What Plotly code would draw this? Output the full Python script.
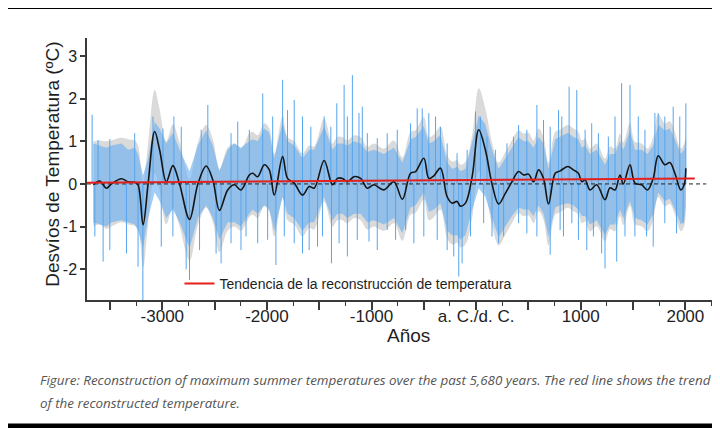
import plotly.graph_objects as go

# Smoothed reconstruction (black line) and its grey uncertainty band
smooth_years = [-3660, -3598, -3534, -3486, -3390, -3327, -3264, -3232, -3184, -3136,
                -3073, -3026, -2962, -2899, -2835, -2740, -2660, -2581, -2517, -2454,
                -2375, -2311, -2248, -2168, -2136, -2088, -2025, -1977, -1930, -1850,
                -1803, -1739, -1660, -1596, -1548, -1453, -1373, -1326, -1278, -1231,
                -1167, -1104, -1040, -977, -882, -786, -705, -627, -579, -500,
                -452, -404, -341, -277, -229, -182, -150, -102, -38, 25,
                88, 152, 215, 279, 342, 406, 454, 501, 549, 597,
                644, 692, 756, 800, 876, 930, 978, 1010, 1042, 1089,
                1153, 1232, 1280, 1328, 1375, 1407, 1471, 1518, 1582, 1639,
                1693, 1741, 1804, 1852, 1900, 1957, 1989, 2005]
smooth_vals = [-0.02, 0.07, -0.10, 0.00, 0.12, 0.05, 0.04, -0.02, -0.96, 0.00,
               1.23, 0.80, 0.05, 0.43, 0.00, -0.83, 0.00, 0.42, 0.09, -0.62,
               -0.14, -0.02, -0.14, 0.21, 0.25, 0.17, 0.45, 0.33, -0.26, 0.64,
               0.13, 0.02, -0.26, -0.06, -0.10, 0.55, -0.02, 0.13, 0.13, 0.05,
               0.17, 0.13, -0.10, -0.02, -0.14, 0.05, -0.36, 0.25, 0.29, 0.60,
               0.13, 0.19, 0.37, -0.30, -0.45, -0.41, -0.52, -0.45, 0.17, 1.27,
               0.80, 0.00, -0.47, -0.22, 0.05, 0.29, 0.21, 0.23, 0.05, 0.33,
               0.13, -0.47, 0.25, 0.30, 0.41, 0.33, 0.25, 0.05, 0.09, -0.14,
               -0.02, -0.37, -0.09, -0.14, 0.21, 0.00, 0.45, 0.02, -0.02, -0.14,
               0.13, 0.66, 0.45, 0.50, 0.25, -0.14, -0.02, 0.37]
grey_hi = [1.00, 1.02, 1.00, 1.02, 1.08, 1.05, 1.02, 0.90, 0.00, 0.95,
           2.20, 1.75, 1.00, 1.40, 0.97, 0.12, 0.97, 1.38, 1.05, 0.35,
           0.85, 0.95, 0.83, 1.18, 1.22, 1.14, 1.42, 1.30, 0.70, 1.60,
           1.10, 1.00, 0.72, 0.90, 0.88, 1.52, 0.95, 1.10, 1.10, 1.02,
           1.14, 1.10, 0.87, 0.95, 0.83, 1.02, 0.62, 1.22, 1.26, 1.57,
           1.10, 1.16, 1.34, 0.67, 0.52, 0.56, 0.45, 0.52, 1.14, 2.24,
           1.77, 0.97, 0.50, 0.75, 1.02, 1.26, 1.18, 1.20, 1.02, 1.30,
           1.10, 0.50, 1.22, 1.27, 1.38, 1.30, 1.22, 1.02, 1.06, 0.83,
           0.95, 0.60, 0.88, 0.83, 1.18, 0.97, 1.42, 0.99, 0.95, 0.83,
           1.10, 1.63, 1.42, 1.47, 1.22, 0.83, 0.95, 1.30]
grey_lo = [-1.00, -0.95, -1.05, -1.00, -0.90, -0.95, -0.98, -1.05, -1.95, -0.95,
           0.25, -0.15, -0.95, -0.55, -1.00, -1.80, -0.97, -0.55, -0.90, -1.60,
           -1.10, -1.00, -1.10, -0.78, -0.72, -0.80, -0.52, -0.65, -1.23, -0.33,
           -0.85, -0.95, -1.23, -1.03, -1.07, -0.42, -1.00, -0.85, -0.85, -0.92,
           -0.80, -0.85, -1.07, -1.00, -1.10, -0.92, -1.33, -0.72, -0.68, -0.37,
           -0.85, -0.78, -0.60, -1.27, -1.42, -1.38, -1.49, -1.42, -0.80, 0.30,
           -0.17, -0.97, -1.44, -1.19, -0.92, -0.68, -0.76, -0.74, -0.92, -0.64,
           -0.84, -1.44, -0.72, -0.67, -0.56, -0.64, -0.72, -0.92, -0.88, -1.11,
           -0.99, -1.34, -1.06, -1.11, -0.76, -0.97, -0.52, -0.95, -0.99, -1.11,
           -0.84, -0.31, -0.52, -0.47, -0.72, -1.11, -0.99, -0.60]

# Dense part of the annual (blue) values
blue_hi = [0.95, 0.90, 0.85, 0.90, 0.95, 0.80, 0.85, 0.70, 0.20, 0.60,
           1.45, 1.30, 0.95, 1.20, 0.80, 0.30, 0.90, 1.25, 0.90, 0.30,
           0.80, 0.95, 0.85, 1.00, 1.05, 1.00, 1.30, 1.20, 0.60, 1.45,
           1.00, 0.90, 0.60, 0.80, 0.80, 1.35, 0.80, 0.95, 0.95, 0.90,
           1.00, 0.95, 0.75, 0.80, 0.70, 0.85, 0.50, 1.05, 1.10, 1.35,
           0.95, 1.00, 1.15, 0.50, 0.35, 0.40, 0.30, 0.35, 0.95, 1.60,
           1.40, 0.80, 0.35, 0.60, 0.85, 1.10, 1.00, 1.00, 0.85, 1.10,
           0.95, 0.35, 1.05, 1.10, 1.20, 1.10, 1.05, 0.85, 0.90, 0.70,
           0.80, 0.45, 0.70, 0.70, 1.00, 0.80, 1.25, 0.80, 0.80, 0.70,
           0.90, 1.40, 1.25, 1.30, 1.05, 0.70, 0.80, 1.10]
blue_lo = [-0.90, -0.95, -1.00, -0.90, -0.85, -0.90, -0.95, -1.10, -1.50, -0.80,
           -0.20, -0.40, -0.80, -0.60, -0.90, -1.50, -0.80, -0.50, -0.80, -1.30,
           -0.90, -0.90, -1.00, -0.70, -0.60, -0.70, -0.50, -0.60, -1.10, -0.30,
           -0.70, -0.80, -1.10, -0.90, -0.90, -0.30, -0.85, -0.70, -0.70, -0.80,
           -0.70, -0.70, -0.90, -0.85, -0.95, -0.80, -1.15, -0.55, -0.50, -0.20,
           -0.65, -0.60, -0.45, -1.10, -1.20, -1.20, -1.30, -1.20, -0.60, -0.10,
           -0.30, -0.80, -1.25, -1.00, -0.75, -0.55, -0.60, -0.60, -0.75, -0.50,
           -0.70, -1.25, -0.55, -0.50, -0.45, -0.50, -0.60, -0.75, -0.75, -0.95,
           -0.85, -1.20, -0.95, -0.95, -0.60, -0.80, -0.40, -0.80, -0.85, -0.95,
           -0.70, -0.20, -0.40, -0.35, -0.60, -0.95, -0.85, -0.50]

# Single annual extremes sticking out of the blue band
up_years = [-3671, -3614, -3502, -3264, -3089, -2994, -2889, -2819, -2628, -2565,
            -2343, -2279, -2168, -2040, -1945, -1850, -1803, -1739, -1660, -1580,
            -1453, -1389, -1332, -1262, -1231, -1183, -1120, -1088, -1040, -945,
            -850, -754, -627, -563, -515, -452, -388, -341, -277, -182,
            -86, -6, 41, 104, 184, 295, 358, 406, 485, 581,
            644, 708, 788, 819, 889, 962, 1042, 1105, 1169, 1264,
            1328, 1391, 1471, 1550, 1614, 1709, 1741, 1804, 1884, 1947, 2005]
up_vals = [1.62, 1.03, 1.05, 1.19, 1.58, 1.30, 1.58, 1.34, 1.27, 1.85,
           1.19, 1.46, 1.27, 2.12, 1.58, 2.44, 1.73, 1.97, 1.58, 1.34,
           1.58, 1.34, 1.89, 2.32, 1.58, 2.55, 1.66, 1.81, 1.19, 1.07,
           1.19, 1.27, 1.42, 1.77, 1.77, 1.66, 1.58, 1.34, 0.95, 0.72,
           0.80, 1.70, 1.58, 1.11, 0.80, 0.95, 1.11, 1.38, 1.27, 1.85,
           1.50, 1.34, 1.73, 1.58, 2.28, 2.20, 1.27, 1.42, 1.19, 1.11,
           1.58, 2.36, 2.32, 1.58, 1.27, 1.66, 1.66, 1.58, 1.81, 1.58, 1.89]
down_years = [-3645, -3566, -3502, -3343, -3232, -3186, -3010, -2899, -2772, -2740,
              -2644, -2486, -2438, -2343, -2248, -2200, -2088, -1993, -1914, -1834,
              -1739, -1660, -1596, -1516, -1469, -1383, -1310, -1231, -1136, -1024,
              -945, -850, -770, -674, -595, -500, -372, -277, -214, -166,
              -134, -54, 72, 152, 215, 263, 406, 485, 581, 708,
              803, 835, 915, 978, 1058, 1121, 1200, 1232, 1344, 1423,
              1518, 1629, 1693, 1804, 1916, 1979]
down_vals = [-1.23, -1.82, -1.55, -1.63, -1.94, -2.72, -1.47, -1.23, -2.00, -2.25,
             -1.55, -1.63, -1.86, -1.39, -1.55, -1.23, -1.39, -1.31, -1.90, -1.23,
             -1.39, -1.63, -1.55, -1.47, -1.23, -1.86, -1.39, -1.70, -1.31, -1.35,
             -1.55, -1.08, -1.31, -1.08, -1.39, -1.23, -1.31, -1.55, -1.70, -2.17,
             -1.86, -1.23, -0.92, -1.23, -1.39, -1.23, -0.92, -1.16, -1.23, -1.66,
             -1.08, -1.23, -0.92, -1.31, -1.55, -1.23, -1.63, -1.98, -1.82, -1.23,
             -1.23, -1.23, -1.47, -0.92, -1.16, -0.92]

# Linear trend of the reconstruction and the zero reference
trend_years = [-3720, 2090]
trend_vals = [0.03, 0.13]
zero_years = [-3720, 2200]

x_tick_vals = [-3500, -3000, -2500, -2000, -1500, -1000, -500, 0, 500, 1000, 1500, 2000]
x_tick_text = ['', '-3000', '', '-2000', '', '-1000', '', 'a. C./d. C.', '', '1000', '', '2000']
y_tick_vals = [-2, -1, 0, 1, 2, 3]
y_tick_text = ['-2', '-1', '0', '1', '2', '3']

GREY = '#dadada'
BLUE_BAND = 'rgba(104,174,240,0.62)'
BLUE_LINE = '#55a5ee'

fig = go.Figure()

# grey uncertainty band
fig.add_trace(go.Scatter(x=smooth_years, y=grey_lo, mode='lines', line=dict(width=0, shape='spline'),
                         showlegend=False, hoverinfo='skip'))
fig.add_trace(go.Scatter(x=smooth_years, y=grey_hi, mode='lines', line=dict(width=0, shape='spline'),
                         fill='tonexty', fillcolor=GREY, showlegend=False, hoverinfo='skip'))

# blue annual band
fig.add_trace(go.Scatter(x=smooth_years, y=blue_lo, mode='lines', line=dict(width=0),
                         showlegend=False, hoverinfo='skip'))
fig.add_trace(go.Scatter(x=smooth_years, y=blue_hi, mode='lines', line=dict(width=0),
                         fill='tonexty', fillcolor=BLUE_BAND, showlegend=False, hoverinfo='skip'))

# annual spikes as thin vertical lines
sx, sy = [], []
for yr, v in zip(up_years + down_years, up_vals + down_vals):
    sx += [yr, yr, None]
    sy += [0, v, None]
fig.add_trace(go.Scatter(x=sx, y=sy, mode='lines', line=dict(color=BLUE_LINE, width=1),
                         showlegend=False, hoverinfo='skip'))

# zero line
fig.add_trace(go.Scatter(x=zero_years, y=[0, 0], mode='lines',
                         line=dict(color='#222222', width=1, dash='4px,3px'),
                         showlegend=False, hoverinfo='skip'))

# smoothed curve
fig.add_trace(go.Scatter(x=smooth_years, y=smooth_vals, mode='lines',
                         line=dict(color='#151515', width=1.6, shape='spline'),
                         showlegend=False))

# trend
fig.add_trace(go.Scatter(x=trend_years, y=trend_vals, mode='lines',
                         line=dict(color='#e3201b', width=2),
                         name='Tendencia de la reconstrucción de temperatura'))

AX = '#3a3a3a'
CAPTION_FONT = dict(family='Open Sans', size=13.4, color='#555555', style='italic')
# the page body adds 8px around the figure, so the figure is 8px smaller and shifted
fig.update_layout(
    width=712, height=420,
    margin=dict(l=79, r=6, t=30, b=128),
    paper_bgcolor='white', plot_bgcolor='white',
    font=dict(family='Liberation Sans, Arial, sans-serif', color='#1e1e1e'),
    showlegend=True,
    legend=dict(x=0.148, y=0.061, xanchor='left', yanchor='middle',
                bgcolor='rgba(0,0,0,0)', font=dict(size=14, color='#1e1e1e')),
    xaxis=dict(range=[-3720, 2255], showgrid=False, zeroline=False,
               showline=True, linecolor=AX, linewidth=1.5,
               tickmode='array', tickvals=x_tick_vals, ticktext=x_tick_text,
               ticks='outside', ticklen=8, tickwidth=1.5, tickcolor=AX,
               tickfont=dict(size=17), ticklabelstandoff=-8,
               minor=dict(dtick=250, tick0=0, ticks='outside', ticklen=4,
                          tickwidth=1.2, tickcolor=AX, showgrid=False)),
    yaxis=dict(range=[-2.72, 3.42], showgrid=False, zeroline=False,
               showline=True, linecolor=AX, linewidth=1.5, mirror=True,
               tickmode='array', tickvals=y_tick_vals, ticktext=y_tick_text,
               ticks='outside', ticklen=5, tickwidth=1.5,
               tickcolor=AX, tickfont=dict(size=16)),
    annotations=[
        dict(text='Desvíos de Temperatura (ºC)', textangle=-90, x=-0.0558, y=0.517,
             xref='paper', yref='paper', xanchor='center', yanchor='middle',
             showarrow=False, font=dict(size=19)),
        dict(text='Años', x=0.515, y=-0.137, xref='paper', yref='paper',
             xanchor='center', yanchor='middle', showarrow=False, font=dict(size=19)),
        dict(text='Figure: Reconstruction of maximum summer temperatures over the past 5,680 years. '
                  'The red line shows the trend',
             x=-0.078, y=-0.305, xref='paper', yref='paper', xanchor='left', yanchor='middle',
             showarrow=False, font=CAPTION_FONT),
        dict(text='of the reconstructed temperature.',
             x=-0.078, y=-0.393, xref='paper', yref='paper', xanchor='left', yanchor='middle',
             showarrow=False, font=CAPTION_FONT),
    ],
    shapes=[
        dict(type='rect', xref='paper', yref='paper', x0=-0.2, x1=1.1, y0=1.111, y1=1.3,
             fillcolor='black', line=dict(width=0), layer='above'),
        dict(type='rect', xref='paper', yref='paper', x0=-0.2, x1=1.1, y0=-0.7, y1=-0.471,
             fillcolor='black', line=dict(width=0), layer='above'),
    ],
)

fig.write_html("out.html")
